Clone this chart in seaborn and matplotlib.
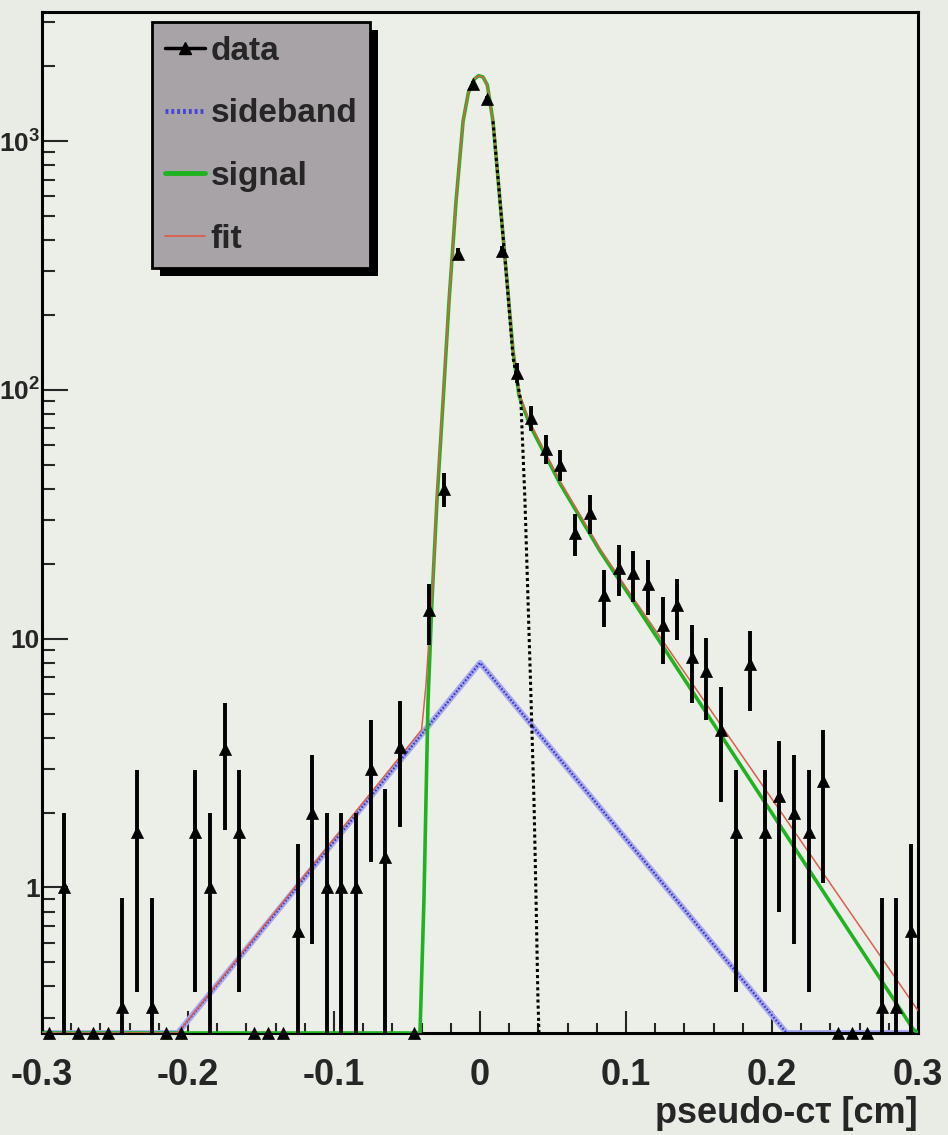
import numpy as np
import pandas as pd
import matplotlib
matplotlib.use("Agg")
import matplotlib.pyplot as plt
import seaborn as sns
from matplotlib.lines import Line2D
from matplotlib.patches import Rectangle
from matplotlib.transforms import IdentityTransform
from matplotlib.ticker import FixedLocator, FixedFormatter, LogLocator, NullFormatter, MultipleLocator

# ---------------- data ----------------
bin_centers = [-0.295, -0.285, -0.275, -0.265, -0.255, -0.245, -0.235, -0.225, -0.215, -0.205,
               -0.195, -0.185, -0.175, -0.165, -0.155, -0.145, -0.135, -0.125, -0.115, -0.105,
               -0.095, -0.085, -0.075, -0.065, -0.055, -0.045, -0.035, -0.025, -0.015, -0.005,
               0.005, 0.015, 0.025, 0.035, 0.045, 0.055, 0.065, 0.075, 0.085, 0.095,
               0.105, 0.115, 0.125, 0.135, 0.145, 0.155, 0.165, 0.175, 0.185, 0.195,
               0.205, 0.215, 0.225, 0.235, 0.245, 0.255, 0.265, 0.275, 0.285, 0.295]
counts = [0, 1.0, 0, 0, 0, 0.33, 1.67, 0.33, 0, 0,
          1.67, 1.0, 3.6, 1.67, 0, 0, 0, 0.67, 2.0, 1.0,
          1.0, 1.0, 3.0, 1.33, 3.67, 0, 13, 40, 352, 1700,
          1480, 360, 117, 77, 58, 50, 26.6, 32, 15, 19.3,
          18.3, 16.6, 11.3, 13.6, 8.4, 7.4, 4.3, 1.67, 7.9, 1.67,
          2.33, 2.0, 1.67, 2.67, 0, 0, 0, 0.33, 0.33, 0.67]
count_errors = [0, 1.0, 0, 0, 0, 0.58, 1.29, 0.58, 0, 0,
                1.29, 1.0, 1.9, 1.29, 0, 0, 0, 0.82, 1.41, 1.0,
                1.0, 1.0, 1.73, 1.15, 1.92, 0, 3.6, 6.3, 18.8, 41,
                38, 19, 10.8, 8.8, 7.6, 7.1, 5.2, 5.7, 3.9, 4.4,
                4.3, 4.1, 3.4, 3.7, 2.9, 2.7, 2.1, 1.29, 2.8, 1.29,
                1.53, 1.41, 1.29, 1.63, 0, 0, 0, 0.58, 0.58, 0.82]

sideband_x = [-0.300, -0.207, 0.000, 0.210, 0.300]
sideband_y = [0.26, 0.26, 8.0, 0.26, 0.26]

signal_x = [-0.300, -0.0411, -0.0384, -0.0356, -0.0329, -0.0295, -0.0253, -0.0212, -0.0164,
            -0.0116, -0.0080, -0.0040, -0.0010, 0.0020, 0.0050, 0.0089, 0.0137, 0.0185, 0.0226,
            0.0267, 0.0342, 0.0548, 0.0822, 0.1048, 0.2966, 0.300]
signal_y = [0.26, 0.26, 0.89, 5.6, 14.2, 35.8, 90, 228, 574,
            1200, 1560, 1770, 1830, 1810, 1680, 1200, 574, 274, 144,
            95, 72, 42, 22.5, 14.2, 0.27, 0.26]

fit_x = [-0.300, -0.207, -0.040, -0.037, -0.0345, -0.032, -0.0295, -0.0253, -0.0212, -0.0164,
         -0.0116, -0.0080, -0.0040, -0.0010, 0.0020, 0.0050, 0.0089, 0.0137, 0.0185, 0.0226,
         0.0267, 0.0342, 0.0548, 0.0822, 0.1048, 0.300]
fit_y = [0.26, 0.26, 4.3, 6.5, 11, 18, 38, 92, 230, 576,
         1200, 1560, 1770, 1830, 1810, 1680, 1200, 576, 276, 146,
         97, 74, 43, 23, 14.6, 0.32]

prompt_x = [0.0089, 0.0137, 0.0185, 0.0226, 0.028, 0.0308, 0.0329, 0.035, 0.037, 0.0384, 0.0397, 0.0404]
prompt_y = [1200, 574, 270, 135, 90, 35.8, 14.2, 5.6, 2.2, 0.89, 0.35, 0.26]

x_ticks = [-0.3, -0.2, -0.1, 0.0, 0.1, 0.2, 0.3]
x_tick_labels = ["-0.3", "-0.2", "-0.1", "0", "0.1", "0.2", "0.3"]
y_ticks = [1, 10, 100, 1000]
y_tick_labels = ["1", "10", r"$\mathbf{10^{2}}$", r"$\mathbf{10^{3}}$"]
legend_labels = ["data", "sideband", "signal", "fit"]
x_label = "pseudo-c\u03c4 [cm]"

# ---------------- style ----------------
sns.set_theme(style="ticks")
plt.rcParams["font.family"] = ["Liberation Sans", "DejaVu Sans"]
plt.rcParams["font.weight"] = "bold"
plt.rcParams["mathtext.fontset"] = "custom"
plt.rcParams["mathtext.bf"] = "Liberation Sans:bold"
plt.rcParams["mathtext.rm"] = "Liberation Sans:bold"
plt.rcParams["axes.unicode_minus"] = False

Y_MIN, Y_MAX = 0.26, 3300
BG = "#e9ebe5"

fig = plt.figure(figsize=(9.48, 11.35), dpi=100, facecolor=BG)
ax = fig.add_axes([42 / 948, 1 - 1033 / 1135, (918 - 42) / 948, (1033 - 12) / 1135])
ax.set_facecolor("#eceee8")
ax.set_yscale("log")

# sideband (blue hatched-looking line)
sb = pd.DataFrame({"x": sideband_x, "y": sideband_y})
sns.lineplot(data=sb, x="x", y="y", ax=ax, color="#a9a9ee", linewidth=4.2, sort=False, zorder=2)
sns.lineplot(data=sb, x="x", y="y", ax=ax, color="#3a3acc", linewidth=1.6, sort=False,
             linestyle=(0, (0.8, 0.8)), zorder=2.1)

# signal
sg = pd.DataFrame({"x": signal_x, "y": signal_y})
sns.lineplot(data=sg, x="x", y="y", ax=ax, color="#1fb41f", linewidth=2.6, sort=False, zorder=3)

# fit
ft = pd.DataFrame({"x": fit_x, "y": fit_y})
sns.lineplot(data=ft, x="x", y="y", ax=ax, color="#d8604a", linewidth=1.1, sort=False, zorder=3.2)

# prompt component (black dotted)
pr = pd.DataFrame({"x": prompt_x, "y": prompt_y})
sns.lineplot(data=pr, x="x", y="y", ax=ax, color="black", linewidth=2.2, sort=False,
             linestyle=(0, (1, 1)), zorder=3.4)

# data
xc = np.array(bin_centers)
yc = np.array(counts, dtype=float)
ye = np.array(count_errors, dtype=float)
nz = yc > 0
ylow = np.clip(yc[nz] - ye[nz], 1e-3, None)
ax.errorbar(xc[nz], yc[nz], yerr=[yc[nz] - ylow, ye[nz]], fmt="none", ecolor="black",
            elinewidth=2.8, capsize=0, zorder=4)
dd = pd.DataFrame({"x": xc, "y": np.where(nz, yc, Y_MIN)})
sns.scatterplot(data=dd, x="x", y="y", ax=ax, marker="^", s=75, color="black",
                edgecolor="black", linewidth=0.5, zorder=5)
ax.collections[-1].set_clip_on(False)

# axes
ax.set_xlim(-0.3, 0.3)
ax.set_ylim(Y_MIN, Y_MAX)
ax.xaxis.set_major_locator(FixedLocator(x_ticks))
ax.xaxis.set_major_formatter(FixedFormatter(x_tick_labels))
ax.xaxis.set_minor_locator(MultipleLocator(0.02))
ax.yaxis.set_major_locator(FixedLocator(y_ticks))
ax.yaxis.set_major_formatter(FixedFormatter(y_tick_labels))
ax.yaxis.set_minor_locator(LogLocator(base=10, subs=np.arange(2, 10)))
ax.yaxis.set_minor_formatter(NullFormatter())

ax.tick_params(axis="x", which="major", direction="in", length=16, width=1.5, pad=18,
               labelsize=26, top=False)
ax.tick_params(axis="x", which="minor", direction="in", length=7, width=1.5, top=False)
ax.tick_params(axis="y", which="major", direction="in", length=19, width=1.5, pad=1.5,
               labelsize=19, right=False)
ax.tick_params(axis="y", which="minor", direction="in", length=9, width=1.5, right=False)
for lbl in ax.get_xticklabels() + ax.get_yticklabels():
    lbl.set_fontweight("bold")
for sp in ax.spines.values():
    sp.set_linewidth(2.2)
    sp.set_color("black")

ax.set_xlabel(x_label, fontsize=26, fontweight="bold", loc="right", labelpad=2)
ax.set_ylabel("")

# legend
handles = [
    Line2D([], [], color="black", linewidth=2.5, marker="^", markersize=9),
    Line2D([], [], color="#4646d6", linewidth=3.5, linestyle=(0, (0.6, 0.6))),
    Line2D([], [], color="#1fb41f", linewidth=3.5),
    Line2D([], [], color="#d8604a", linewidth=1.3),
]
leg = ax.legend(handles, legend_labels, loc="upper left", bbox_to_anchor=(0.1256, 0.99),
                borderaxespad=0, frameon=True, fancybox=False, facecolor="#a8a3a7",
                edgecolor="black", framealpha=1, handlelength=1.2,
                handletextpad=0.15, labelspacing=0.95, borderpad=0.4,
                prop={"weight": "bold", "size": 24})
leg.get_frame().set_linewidth(2.0)
leg.set_zorder(10)

fig.canvas.draw()
bb = leg.get_window_extent()
shadow = Rectangle((bb.x0 + 8, bb.y0 - 8), bb.width, bb.height, transform=IdentityTransform(),
                   facecolor="black", edgecolor="none", zorder=9, clip_on=False)
ax.add_patch(shadow)

fig.savefig("out.png", dpi=100, facecolor=BG)
